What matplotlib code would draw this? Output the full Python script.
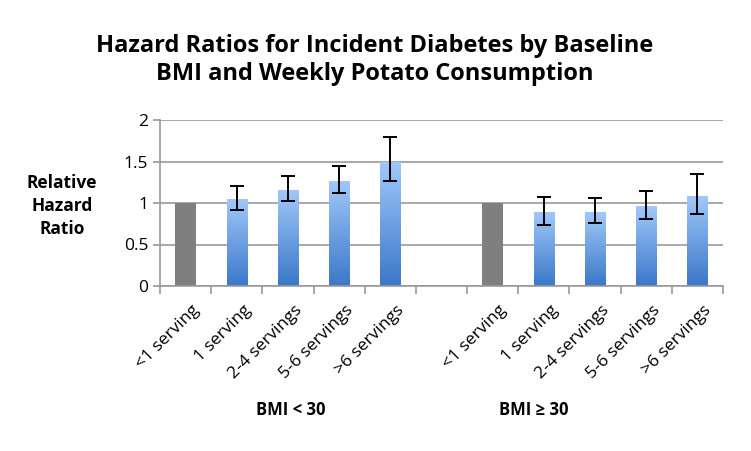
import numpy as np
import matplotlib.pyplot as plt
from matplotlib.colors import LinearSegmentedColormap
from matplotlib.transforms import ScaledTranslation

servings = ["<1 serving", "1 serving", "2-4 servings", "5-6 servings", ">6 servings"]
groups = ["BMI < 30", "BMI \u2265 30"]

hr_low = [1.0, 1.05, 1.16, 1.27, 1.50]
ci_low_lo = [1.0, 0.92, 1.03, 1.12, 1.26]
ci_low_hi = [1.0, 1.21, 1.32, 1.45, 1.80]

hr_high = [1.0, 0.89, 0.89, 0.96, 1.09]
ci_high_lo = [1.0, 0.74, 0.76, 0.81, 0.87]
ci_high_hi = [1.0, 1.07, 1.06, 1.14, 1.35]

plt.rcParams['font.family'] = ['Open Sans', 'DejaVu Sans']

fig = plt.figure(figsize=(7.51, 4.51), dpi=100)
ax = fig.add_axes([160/751, 1 - 286/451, (723-160)/751, (286-120)/451])

x_low = np.arange(5)
x_high = np.arange(6, 11)
xs = np.concatenate([x_low, x_high])
vals = hr_low + hr_high
lo = ci_low_lo + ci_high_lo
hi = ci_low_hi + ci_high_hi
w = 0.4

grad = np.linspace(0, 1, 256).reshape(-1, 1)
cmap = LinearSegmentedColormap.from_list("blu", ["#3a78c9", "#a2c8fa"])

for i, (x, v) in enumerate(zip(xs, vals)):
    if i % 5 == 0:
        ax.bar(x, v, width=w, color="#7f7f7f", zorder=2)
    else:
        b = ax.bar(x, v, width=w, color="none", zorder=2)[0]
        im = ax.imshow(grad, extent=(x - w/2, x + w/2, 0, v), origin="lower",
                       cmap=cmap, aspect="auto", zorder=2)
        im.set_clip_path(b)
        ax.errorbar(x, v, yerr=[[v - lo[i]], [hi[i] - v]], fmt="none", ecolor="black",
                    elinewidth=1.4, capsize=5, capthick=1.4, zorder=3)

ax.set_xlim(-0.5, 10.5)
ax.set_ylim(0, 2)
ax.set_yticks([0, 0.5, 1, 1.5, 2])
ax.set_yticklabels(["0", "0.5", "1", "1.5", "2"], fontsize=12.5)
ax.yaxis.grid(True, color="#9a9a9a", linewidth=1.2, zorder=0)
ax.set_axisbelow(True)

ax.set_xticks(np.arange(-0.5, 11, 1))
ax.set_xticklabels([])
ax.set_xticks(xs, minor=True)
ax.set_xticklabels(servings + servings, minor=True, rotation=45, ha="right",
                   rotation_mode="anchor", fontsize=12.5)
ax.tick_params(axis="x", which="minor", length=0, pad=12)
ax.tick_params(axis="x", which="major", length=6, color="#9a9a9a", width=1.2)
ax.tick_params(axis="y", length=5, color="#9a9a9a", width=1.2)
shift = ScaledTranslation(6/100, 0, fig.dpi_scale_trans)
for lbl in ax.get_xticklabels(minor=True):
    lbl.set_transform(lbl.get_transform() + shift)

for s in ["top", "right"]:
    ax.spines[s].set_visible(False)
for s in ["left", "bottom"]:
    ax.spines[s].set_color("#9a9a9a")
    ax.spines[s].set_linewidth(1.2)

fig.text(375/751, 1 - 60/451, "Hazard Ratios for Incident Diabetes by Baseline\nBMI and Weekly Potato Consumption",
         ha="center", va="center", fontsize=17, fontweight="bold", linespacing=1.25)
fig.text(62/751, 1 - 206/451, "Relative\nHazard\nRatio", ha="center", va="center",
         fontsize=12.5, fontweight="bold", linespacing=1.35)
fig.text(291/751, 1 - 410/451, groups[0], ha="center", va="center", fontsize=12, fontweight="bold")
fig.text(534/751, 1 - 410/451, groups[1], ha="center", va="center", fontsize=12, fontweight="bold")

fig.savefig("out.png", dpi=100)
